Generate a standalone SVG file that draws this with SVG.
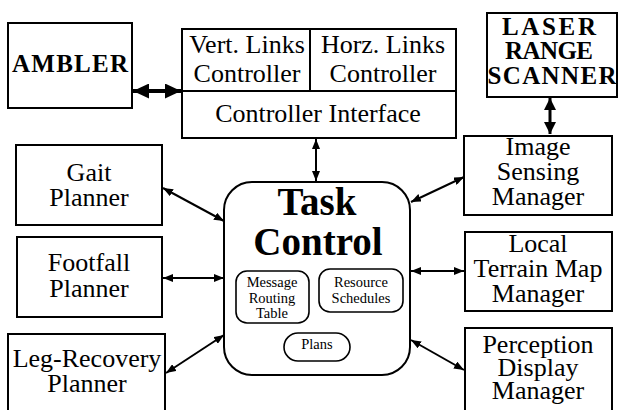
<svg xmlns="http://www.w3.org/2000/svg" width="620" height="410" viewBox="0 0 620 410">
  <defs>
    <style>
      .box { fill: #fff; stroke: #000; stroke-width: 2; }
      .inner { fill: #fff; stroke: #000; stroke-width: 1.6; }
      .t { font-family: "Liberation Serif", "Times New Roman", serif; font-size: 26px; text-anchor: middle; fill: #000; }
      .b { font-family: "Liberation Serif", "Times New Roman", serif; font-weight: bold; text-anchor: middle; fill: #000; }
      .s { font-family: "Liberation Serif", "Times New Roman", serif; font-size: 14.5px; text-anchor: middle; fill: #000; }
      .link { fill: none; stroke: #000; stroke-width: 2; marker-start: url(#head); marker-end: url(#head); }
    </style>
    <marker id="head" viewBox="0 0 10 8" refX="10" refY="4" markerWidth="10" markerHeight="8" markerUnits="userSpaceOnUse" orient="auto-start-reverse">
      <path d="M0,0 L10,4 L0,8 Z" fill="#000"/>
    </marker>
    <marker id="bighead" viewBox="0 0 16 15" refX="16" refY="7.5" markerWidth="16" markerHeight="15" markerUnits="userSpaceOnUse" orient="auto-start-reverse">
      <path d="M0,0 L16,7.5 L0,15 Z" fill="#000"/>
    </marker>
    <marker id="midhead" viewBox="0 0 12 12" refX="12" refY="6" markerWidth="12" markerHeight="12" markerUnits="userSpaceOnUse" orient="auto-start-reverse">
      <path d="M0,0 L12,6 L0,12 Z" fill="#000"/>
    </marker>
  </defs>

  <!-- connectors -->
  <g id="connectors">
    <path d="M133,91 L181,91" fill="none" stroke="#000" stroke-width="4" marker-start="url(#bighead)" marker-end="url(#bighead)"/>
    <path d="M550,98 L550,134" fill="none" stroke="#000" stroke-width="3" marker-start="url(#midhead)" marker-end="url(#midhead)"/>
    <path class="link" d="M316,139 L316,181"/>
    <path class="link" d="M163,188 L224,221"/>
    <path class="link" d="M163,278 L224,278"/>
    <path class="link" d="M166,373 L224,335"/>
    <path class="link" d="M411,202 L464,177"/>
    <path class="link" d="M411,271 L464,271"/>
    <path class="link" d="M411,340 L464,370"/>
  </g>

  <g id="ambler">
    <rect class="box" x="8" y="23" width="124" height="85"/>
    <text class="b" x="70" y="72" font-size="25" textLength="116" lengthAdjust="spacing">AMBLER</text>
  </g>

  <g id="controller">
    <rect class="box" x="182" y="29" width="274" height="109"/>
    <line x1="182" y1="91" x2="456" y2="91" stroke="#000" stroke-width="2"/>
    <line x1="310" y1="29" x2="310" y2="91" stroke="#000" stroke-width="2"/>
    <text class="t" x="247" y="53">Vert. Links</text>
    <text class="t" x="247" y="82">Controller</text>
    <text class="t" x="383" y="53">Horz. Links</text>
    <text class="t" x="383" y="82">Controller</text>
    <text class="t" x="318" y="122">Controller Interface</text>
  </g>

  <g id="laser">
    <rect class="box" x="487" y="13" width="130" height="84"/>
    <text class="b" x="549" y="35" font-size="25" textLength="94" lengthAdjust="spacing">LASER</text>
    <text class="b" x="549" y="59" font-size="25" textLength="88" lengthAdjust="spacing">RANGE</text>
    <text class="b" x="552" y="84" font-size="25" textLength="129" lengthAdjust="spacing">SCANNER</text>
  </g>

  <g id="gait">
    <rect class="box" x="16" y="145" width="146" height="80"/>
    <text class="t" x="89" y="181">Gait</text>
    <text class="t" x="89" y="206">Planner</text>
  </g>

  <g id="footfall">
    <rect class="box" x="17" y="237" width="145" height="80"/>
    <text class="t" x="89" y="271">Footfall</text>
    <text class="t" x="89" y="297">Planner</text>
  </g>

  <g id="legrecovery">
    <rect class="box" x="8" y="334" width="157" height="90"/>
    <text class="t" x="87" y="367">Leg-Recovery</text>
    <text class="t" x="87" y="392">Planner</text>
  </g>

  <g id="imagesensing">
    <rect class="box" x="464" y="136" width="148" height="79"/>
    <text class="t" x="538" y="155">Image</text>
    <text class="t" x="538" y="180">Sensing</text>
    <text class="t" x="538" y="205">Manager</text>
  </g>

  <g id="terrainmap">
    <rect class="box" x="465" y="232" width="147" height="79"/>
    <text class="t" x="538" y="252">Local</text>
    <text class="t" x="538" y="277">Terrain Map</text>
    <text class="t" x="538" y="302">Manager</text>
  </g>

  <g id="perception">
    <rect class="box" x="465" y="328" width="147" height="96"/>
    <text class="t" x="538" y="353">Perception</text>
    <text class="t" x="538" y="376">Display</text>
    <text class="t" x="538" y="399">Manager</text>
  </g>

  <g id="taskcontrol">
    <rect class="box" x="224" y="182" width="186" height="193" rx="28" ry="28"/>
    <text class="b" x="317" y="215" font-size="39">Task</text>
    <text class="b" x="318" y="255" font-size="39">Control</text>
    <rect class="inner" x="236" y="271" width="73" height="52" rx="11" ry="11"/>
    <text class="s" x="272" y="287">Message</text>
    <text class="s" x="272" y="303">Routing</text>
    <text class="s" x="272" y="318">Table</text>
    <rect class="inner" x="319" y="269" width="84" height="43" rx="11" ry="11"/>
    <text class="s" x="361" y="287">Resource</text>
    <text class="s" x="361" y="303">Schedules</text>
    <rect class="inner" x="284" y="333" width="66" height="28" rx="14" ry="14"/>
    <text class="s" x="317" y="349">Plans</text>
  </g>
</svg>
